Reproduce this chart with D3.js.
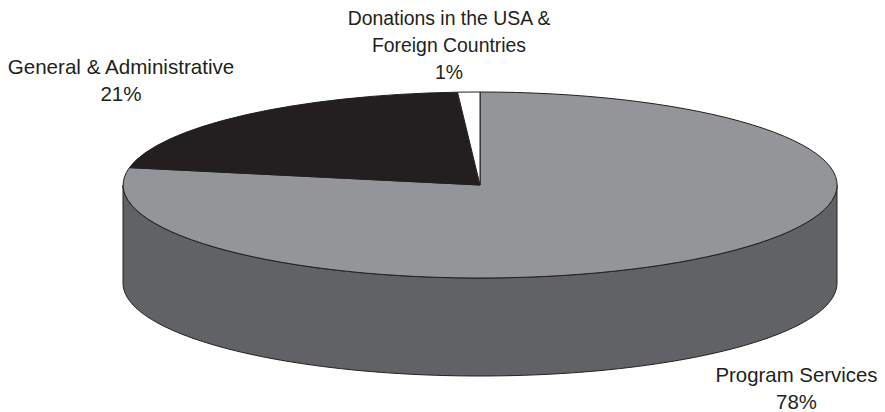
<!DOCTYPE html>
<html><head><meta charset="utf-8">
<script src="https://d3js.org/d3.v7.min.js"></script>
<style>html,body{margin:0;padding:0;background:#fff}svg{display:block}text{font-family:"Liberation Sans",Arial,sans-serif;fill:#231f20;text-anchor:middle}</style>
</head><body><div id="c"></div>
<script>
const categories=["Program Services","General & Administrative","Donations in the USA & Foreign Countries"];
const values=[78,21,1];
const colors=["#939598","#231f20","#ffffff"];
const labelLines=[["Program Services","78%"],["General & Administrative","21%"],["Donations in the USA &","Foreign Countries","1%"]];
const W=885,H=412,cx=480,cy=185,rx=357,ry=93,depth=98;
const svg=d3.select("#c").append("svg").attr("width",W).attr("height",H);
const pie=d3.pie().sort(null).value(d=>d);
const arcs=pie(values);
const arc=d3.arc().innerRadius(0).outerRadius(1);
const x=d3.scaleLinear().domain([-1,1]).range([cx-rx,cx+rx]);
const y=d3.scaleLinear().domain([-1,1]).range([cy-ry,cy+ry]);
const a=d3.range(0,181).map(i=>Math.PI/2+i*Math.PI/180);
const wall=d3.area().x(t=>x(Math.sin(t))).y0(t=>y(-Math.cos(t))).y1(t=>y(-Math.cos(t))+depth);
svg.append("path").attr("d",wall(a)).attr("fill","#616265").attr("stroke","#231f20").attr("stroke-width",1);
svg.append("g").attr("transform",`translate(${cx},${cy}) scale(${rx},${ry})`)
 .selectAll("path").data(arcs).join("path")
 .attr("d",arc).attr("fill",(d,i)=>colors[i])
 .attr("stroke","#231f20").attr("stroke-width",1).attr("vector-effect","non-scaling-stroke");
const pos=[{x:796.5,y:[382,409],s:20.4},{x:121,y:[74,101],s:20.6},{x:449,y:[25,52,79],s:19.4}];
labelLines.forEach((lines,i)=>{
 const t=svg.append("text").attr("aria-label",categories[i]).style("font-size",pos[i].s+"px");
 lines.forEach((s,j)=>t.append("tspan").attr("x",pos[i].x).attr("y",pos[i].y[j]).text(s));
});
</script></body></html>
